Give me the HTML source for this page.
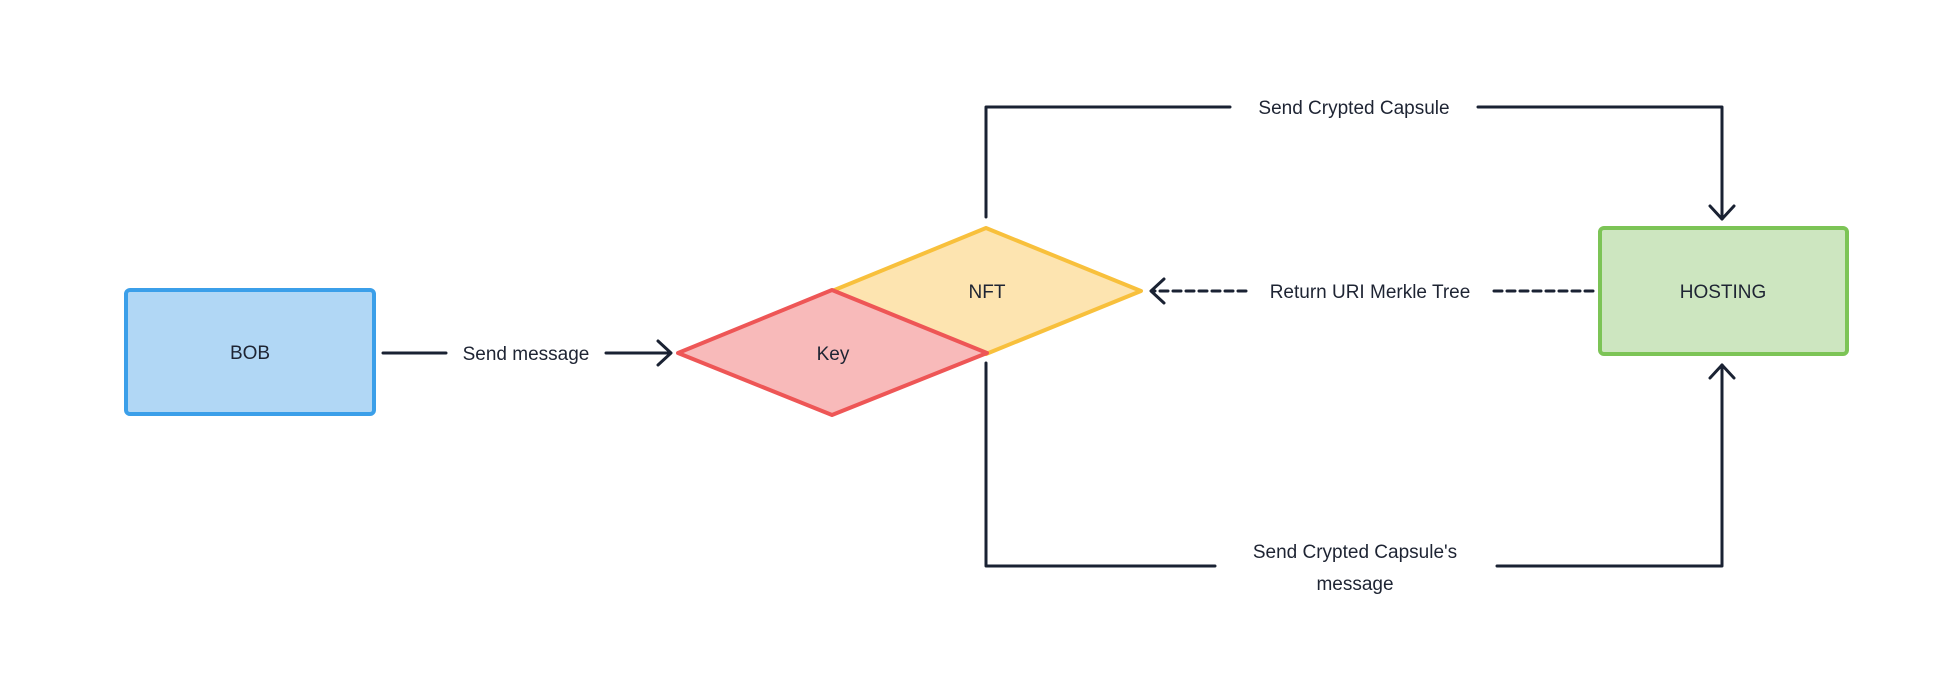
<!DOCTYPE html>
<html><head><meta charset="utf-8"><style>
html,body{margin:0;padding:0;background:#fff;}
svg{display:block;}
text{font-family:"Liberation Sans",sans-serif;fill:#1e2433;}
</style></head><body>
<svg width="1948" height="698" viewBox="0 0 1948 698" xmlns="http://www.w3.org/2000/svg">
<g stroke="#1a2233" stroke-width="3" fill="none" stroke-linejoin="round" stroke-linecap="round">
  <!-- send message -->
  <line x1="383" y1="353" x2="446" y2="353"/>
  <line x1="606" y1="353" x2="670" y2="353"/>
  <polyline points="658,341 671,353 658,365"/>
  <!-- top connector -->
  <polyline points="986,217 986,107 1230,107"/>
  <polyline points="1478,107 1722,107 1722,219"/>
  <polyline points="1710,206 1722,219 1734,206"/>
  <!-- bottom connector -->
  <polyline points="986,363 986,566 1215,566"/>
  <polyline points="1497,566 1722,566 1722,365"/>
  <polyline points="1710,378 1722,365 1734,378"/>
  <!-- dashed return -->
  <line x1="1593" y1="291" x2="1493" y2="291" stroke-dasharray="8,5"/>
  <line x1="1246" y1="291" x2="1152" y2="291" stroke-dasharray="8,5"/>
  <polyline points="1164,279 1151,291 1164,303"/>
</g>
<!-- BOB -->
<rect x="126" y="290" width="248" height="124" rx="4" fill="#b1d7f5" stroke="#3b9fe9" stroke-width="4"/>
<text x="250" y="359" font-size="19" text-anchor="middle">BOB</text>
<!-- NFT -->
<polygon points="986,228 1141,291 986,354 832,291" fill="#fde4b0" stroke="#f8c03c" stroke-width="4" stroke-linejoin="round"/>
<text x="987" y="298" font-size="19" text-anchor="middle">NFT</text>
<!-- Key -->
<polygon points="832,290 987,353 832,415 678,353" fill="#f8baba" stroke="#ee5656" stroke-width="4" stroke-linejoin="round"/>
<text x="833" y="360" font-size="19" text-anchor="middle">Key</text>
<!-- HOSTING -->
<rect x="1600" y="228" width="247" height="126" rx="4" fill="#cde6c0" stroke="#7cc456" stroke-width="4"/>
<text x="1723" y="298" font-size="19" text-anchor="middle">HOSTING</text>
<!-- labels -->
<text x="526" y="360" font-size="19" text-anchor="middle">Send message</text>
<text x="1354" y="114" font-size="19" text-anchor="middle">Send Crypted Capsule</text>
<text x="1370" y="298" font-size="19" text-anchor="middle">Return URI Merkle Tree</text>
<text x="1355" y="558" font-size="19" text-anchor="middle">Send Crypted Capsule's</text>
<text x="1355" y="590" font-size="19" text-anchor="middle">message</text>
</svg>
</body></html>
